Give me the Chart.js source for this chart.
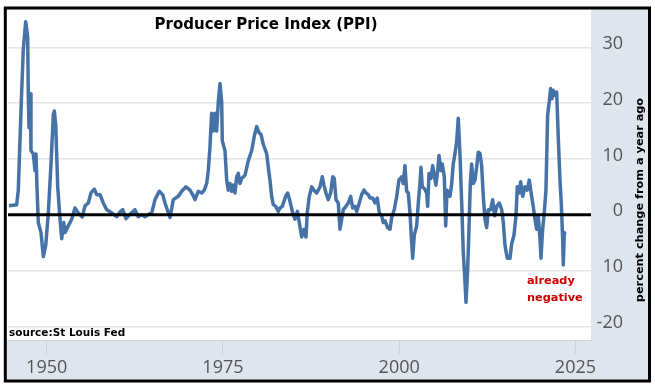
<!DOCTYPE html>
<html>
<head>
<meta charset="utf-8">
<script src="https://cdn.jsdelivr.net/npm/chart.js@4/dist/chart.umd.min.js"></script>
<style>
  html, body { margin: 0; padding: 0; background: #ffffff; }
  canvas { display: block; }
</style>
</head>
<body>
<canvas id="c" width="655" height="387"></canvas>
<script>
// ---- data (year, % change from a year ago) ----
const years = [
  1944.65, 1945.74, 1945.97, 1946.35, 1946.45, 1946.68, 1947.02, 1947.30, 1947.39, 1947.49, 1947.67, 1947.77, 1948.10, 1948.34, 1948.48, 1948.62, 1948.81, 1949.19, 1949.52, 1949.86,
  1950.23, 1950.61, 1950.94, 1951.08, 1951.28, 1951.56, 1951.89, 1952.13, 1952.41, 1952.60, 1953.06, 1953.55, 1954.01, 1954.48, 1955.05, 1955.43, 1955.90, 1956.28, 1956.75, 1957.09, 1957.56, 1958.03, 1958.51, 1959.22, 1959.93,
  1960.40, 1960.78, 1961.25, 1961.82, 1962.52, 1962.99, 1963.48, 1963.94, 1964.41, 1964.89, 1965.36, 1965.97, 1966.45, 1966.78, 1967.25, 1967.49, 1967.96, 1968.67, 1969.15, 1969.76,
  1970.33, 1970.79, 1971.04, 1971.50, 1971.99, 1972.35, 1972.70, 1972.92, 1973.16, 1973.40, 1973.63, 1973.87, 1974.11, 1974.34, 1974.58, 1974.82, 1974.91, 1975.29, 1975.53, 1975.76, 1976.00, 1976.24, 1976.47, 1976.71, 1976.95, 1977.18, 1977.42, 1977.66, 1978.13, 1978.60, 1979.08, 1979.45, 1979.79,
  1980.11, 1980.40, 1980.72, 1980.96, 1981.21, 1981.43, 1981.67, 1981.91, 1982.14, 1982.48, 1982.85, 1983.09, 1983.42, 1983.90, 1984.18, 1984.51, 1984.89, 1985.22, 1985.55, 1985.83, 1986.17, 1986.50, 1986.78, 1986.96, 1987.25, 1987.59, 1987.91, 1988.30, 1988.77, 1989.09, 1989.33, 1989.62, 1989.94,
  1990.28, 1990.57, 1990.79, 1991.04, 1991.36, 1991.60, 1991.84, 1992.07, 1992.45, 1992.78, 1993.12, 1993.40, 1993.73, 1993.97, 1994.34, 1994.68, 1995.01, 1995.30, 1995.62, 1995.86, 1996.24, 1996.57, 1996.89, 1997.18, 1997.52, 1997.74, 1997.99, 1998.37, 1998.70, 1998.94, 1999.30, 1999.65, 1999.97,
  2000.35, 2000.58, 2000.82, 2001.06, 2001.29, 2001.53, 2001.77, 2001.91, 2002.14, 2002.48, 2002.71, 2002.95, 2003.09, 2003.28, 2003.56, 2003.90, 2004.04, 2004.23, 2004.51, 2004.75, 2004.98, 2005.22, 2005.46, 2005.65, 2005.93, 2006.11, 2006.40, 2006.60, 2006.78, 2006.96, 2007.21, 2007.45, 2007.67, 2007.91, 2008.16, 2008.38, 2008.62, 2008.87, 2009.09, 2009.33, 2009.48, 2009.72, 2009.90,
  2010.09, 2010.28, 2010.51, 2010.75, 2010.99, 2011.22, 2011.46, 2011.70, 2011.93, 2012.17, 2012.41, 2012.64, 2012.98, 2013.26, 2013.55, 2013.83, 2014.20, 2014.54, 2014.77, 2015.01, 2015.33, 2015.72, 2015.96, 2016.28, 2016.57, 2016.75, 2017.04, 2017.23, 2017.52, 2017.84, 2018.17, 2018.45, 2018.79, 2019.02, 2019.26, 2019.50, 2019.73, 2019.97,
  2020.11, 2020.35, 2020.58, 2020.82, 2021.06, 2021.29, 2021.48, 2021.67, 2021.86, 2022.10, 2022.34, 2022.57, 2022.81, 2022.99, 2023.19, 2023.28, 2023.42, 2023.55
];
const ppiChange = [
  1.6, 1.8, 4.4, 18.5, 22, 29.6, 34.6, 31.9, 21.4, 15.6, 21.7, 11.5, 10.9, 7.9, 10.9, 5, -1.4, -3.2, -7.5, -5.5,
  0.35, 9.1, 17.9, 18.6, 16.1, 5.1, -0.8, -4.3, -1.4, -3.2, -2, -0.8, 1.2, 0.3, -0.4, 1.6, 2.1, 3.9, 4.6, 3.6, 3.6, 2.1, 0.9, 0.35, -0.35,
  0.5, 0.9, -0.7, 0.06, 0.9, -0.35, 0, -0.35, 0.05, 0.3, 2.7, 4.2, 3.6, 2.1, 0.35, -0.5, 2.7, 3.3, 4.2, 5,
  4.4, 3.4, 2.7, 4.2, 3.9, 4.4, 5.6, 7.9, 12.1, 18.2, 15, 18.2, 15, 20.2, 23.5, 20.2, 13.2, 11.5, 6.2, 4.4, 5.6, 4.2, 5.3, 3.9, 6.8, 7.4, 5.6, 6.5, 7.1, 9.7, 11.5, 14.1, 15.8,
  14.7, 14.4, 12.6, 11.8, 10.9, 8.5, 6.2, 3.3, 1.8, 1.5, 0.6, 1.2, 1.5, 3.3, 3.9, 2.4, 0.35, -0.8, 0.6, -1.4, -4, -2.6, -4, 0.35, 3.3, 5, 4.4, 3.9, 5, 6.8, 5.3, 3.9, 2.7,
  3.9, 6.8, 6.5, 2.7, 2.1, -2.6, -0.8, 0.9, 1.5, 2.1, 3.3, 1.2, 1.5, 0.6, 2.1, 3.6, 4.4, 3.9, 3.6, 3, 3, 2.1, 3, 0.35, -0.2, -1.4, -1.1, -2.3, -2.6, -0.5, 0.9, 3.3, 6.2,
  6.8, 5.6, 8.8, 4.2, 3.9, 0.35, -4.9, -7.8, -3.7, -2, 2.1, 5.6, 8.5, 5, 4.7, 3.9, 1.5, 7.4, 6.5, 8.8, 7.1, 5.3, 7.9, 10.6, 7.9, 9.1, 6.8, -2, 4.4, 3.9, 3.3, 5.6, 9.1, 10.9, 13.2, 17.3, 10.9, 2.1, -6.7, -11.9, -15.7, -9.6, -2.6,
  5.6, 9.1, 5.6, 6.2, 8.5, 11.2, 11, 8.8, 3.3, -0.8, -2.3, 0.9, 0.9, 2.7, -0.2, 1.5, 2.1, 0.9, -1.4, -5.5, -7.8, -7.8, -5.2, -3.7, -0.2, 5, 3.9, 5.9, 3.3, 5, 4.4, 6.2, 3.3, 1.5, -0.8, -2.6, -0.2, -4.3,
  -7.8, -2.6, 0.35, 4.4, 17.9, 20.2, 22.6, 20.8, 22.3, 21.4, 22, 13.8, 6.2, 2.1, -4.3, -9, -3.2, -3.5
];
const xTickValues = [1950, 1975, 2000, 2025];
const yTickValues = [-20, -10, 0, 10, 20, 30];
const yTickLabels = ['-20', '10', '0', '10', '20', '30'];
const titleText = 'Producer Price Index (PPI)';
const sourceText = 'source:St Louis Fed';
const noteLines = ['already', 'negative'];
const axisTitle = 'percent change from a year ago';

const n = Math.min(years.length, ppiChange.length);
const points = [];
for (let i = 0; i < n; i++) points.push({ x: years[i], y: ppiChange[i] });

const BAND = '#dfe5ec';

const decor = {
  id: 'decor',
  beforeDraw(chart) {
    const { ctx, chartArea: a } = chart;
    ctx.save();
    ctx.fillStyle = '#ffffff';
    ctx.fillRect(0, 0, chart.width, chart.height);
    ctx.fillStyle = BAND;
    ctx.fillRect(a.right, 8, 650 - a.right, 374);
    ctx.fillRect(5, a.bottom, a.right - 5, 382 - a.bottom);
    ctx.restore();
  },
  afterDatasetsDraw(chart) {
    const { ctx, chartArea: a, scales } = chart;
    const y0 = scales.y.getPixelForValue(0);
    ctx.save();
    ctx.strokeStyle = '#000000';
    ctx.lineWidth = 3;
    ctx.beginPath();
    ctx.moveTo(a.left, y0);
    ctx.lineTo(a.right, y0);
    ctx.stroke();
    ctx.restore();
  },
  afterDraw(chart) {
    const { ctx } = chart;
    ctx.save();
    // title
    ctx.fillStyle = '#000000';
    ctx.font = 'bold 15px "DejaVu Sans"';
    ctx.textAlign = 'center';
    ctx.textBaseline = 'middle';
    ctx.fillText(titleText, 266, 25);
    // source
    ctx.font = 'bold 10.5px "DejaVu Sans"';
    ctx.textAlign = 'left';
    ctx.fillText(sourceText, 9, 333);
    // note
    ctx.fillStyle = '#cc0000';
    ctx.font = 'bold 11.3px "DejaVu Sans"';
    ctx.fillText(noteLines[0], 527, 281);
    ctx.fillText(noteLines[1], 527, 298);
    // rotated axis title
    ctx.fillStyle = '#000000';
    ctx.font = 'bold 11.3px "DejaVu Sans"';
    ctx.translate(640, 200);
    ctx.rotate(-Math.PI / 2);
    ctx.textAlign = 'center';
    ctx.fillText(axisTitle, 0, 0);
    ctx.restore();
    // outer black frame
    ctx.save();
    ctx.strokeStyle = '#000000';
    ctx.lineWidth = 3;
    ctx.strokeRect(5.3, 8, 644.2, 373);
    ctx.restore();
  }
};

const tickFont = { family: '"Open Sans"', size: 18 };

new Chart(document.getElementById('c'), {
  type: 'line',
  data: {
    datasets: [{
      data: points,
      borderColor: '#4572a7',
      borderWidth: 3.5,
      pointRadius: 0,
      tension: 0,
      borderJoinStyle: 'round',
      fill: false
    }]
  },
  options: {
    responsive: false,
    animation: false,
    devicePixelRatio: 1,
    layout: { padding: { left: 8, top: 9.5, right: 32, bottom: 8 } },
    plugins: { legend: { display: false }, tooltip: { enabled: false }, title: { display: false } },
    scales: {
      x: {
        type: 'linear',
        min: 1944.51,
        max: 2027.21,
        afterBuildTicks: s => { s.ticks = xTickValues.map(v => ({ value: v })); },
        afterFit: s => { s.height = 39; },
        grid: { drawOnChartArea: false, drawTicks: true, tickLength: 14, color: '#c9d3e0', lineWidth: 1 },
        border: { display: true, color: '#ccd6e3', width: 1 },
        ticks: { padding: 3, font: tickFont, color: '#555555', maxRotation: 0, autoSkip: false, callback: v => String(v) }
      },
      y: {
        position: 'right',
        min: -22.45,
        max: 35.47,
        afterBuildTicks: s => { s.ticks = yTickValues.map(v => ({ value: v })); },
        afterFit: s => { s.width = 32; },
        grid: {
          drawTicks: false,
          color: c => (c.tick && c.tick.value === 0) ? 'rgba(0,0,0,0)' : '#e4e4e4',
          lineWidth: 1.5
        },
        border: { display: false },
        ticks: {
          crossAlign: 'far',
          padding: 6,
          labelOffset: -3.5,
          font: tickFont,
          color: '#555555',
          autoSkip: false,
          callback: v => { const i = yTickValues.indexOf(v); return i >= 0 ? yTickLabels[i] : ''; }
        }
      }
    }
  },
  plugins: [decor]
});
</script>
</body>
</html>
